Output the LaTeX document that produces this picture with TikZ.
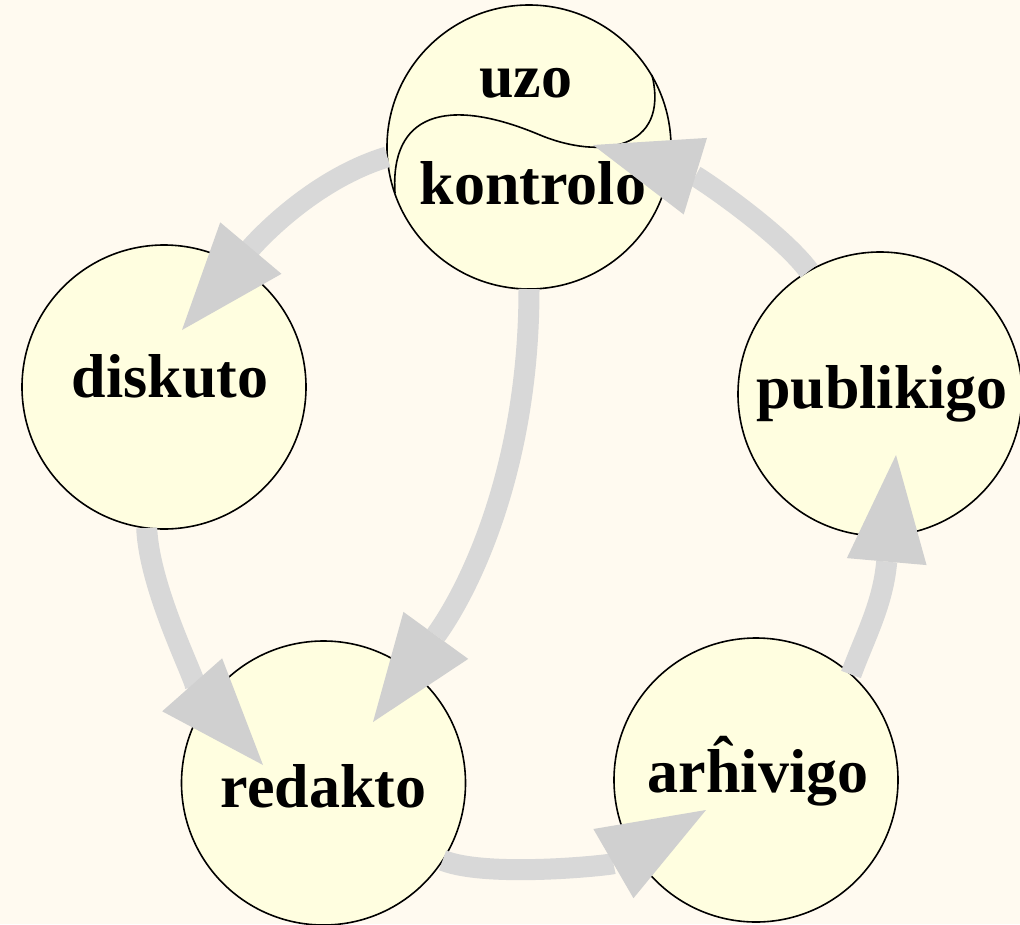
\documentclass[tikz,border=0pt]{standalone}
\usepackage{fontspec}
\setmainfont{Liberation Serif}
\usetikzlibrary{arrows.meta,calc}
\definecolor{bgcol}{RGB}{255,250,240}
\definecolor{nodefill}{RGB}{255,254,224}
\definecolor{shaftgray}{RGB}{216,216,216}
\definecolor{headgray}{RGB}{208,208,208}
\tikzset{
  stage/.style={circle, draw=black, line width=1.6pt, fill=nodefill, minimum size=284pt, inner sep=0pt, outer sep=0pt},
  stagetext/.style={anchor=base, inner sep=0pt, font=\bfseries\fontsize{62}{70}\selectfont},
  flow/.style={draw=shaftgray, line width=21pt, -{Triangle[length=107pt,width=80pt,color=headgray,line width=0pt]}},
}
\begin{document}
\begin{tikzpicture}[x=1pt,y=-1pt]
\fill[bgcol] (0,0) rectangle (1020,924);
\useasboundingbox (0,0) rectangle (1020,924);

\node[stage] (uk) at (529,147) {};
\node[stage] (d) at (164,387) {};
\node[stage] (p) at (880,394) {};
\node[stage] (r) at (323.5,783) {};
\node[stage] (a) at (756,780) {};

\draw[line width=1.6pt, shift={(uk.center)}] (-134,46) .. controls (-139,-32) and (-84,-52) .. (11,-12) .. controls (71,13) and (141,3) .. (123,-72);

\node[stagetext] (uzo) at ($(uk)+(-3,-50)$) {uzo};
\node[stagetext] (kontrolo) at ($(uk)+(4,57)$) {kontrolo};
\node[stagetext] (dtext) at ($(d)+(6,10)$) {diskuto};
\node[stagetext] (ptext) at ($(p)+(2,14)$) {publikigo};
\node[stagetext] (rtext) at ($(r)+(0,24)$) {redakto};
\node[stagetext] (atext) at ($(a)+(2,12)$) {arĥivigo};

\draw[flow] (uk.184) .. controls +(-86,26) and +(58,-69) .. ($(d)+(18,-57)$);
\draw[flow] (uk.270) .. controls +(0,179) and +(96.5,-133) .. ($(r)+(49.5,-61)$);
\draw[flow] (d.263) .. controls +(3,70) and +(-53,-60) .. ($(r)+(-60.5,-18)$);
\draw[flow] (r.-33) .. controls +(45,18) and +(-95,55) .. ($(a)+(-50,30)$);
\draw[flow] (a.48) .. controls +(14,-38) and +(-13,149) .. ($(p)+(16,61)$);
\draw[flow] (p.120) .. controls +(-30,-40) and +(105,32) .. ($(uk)+(64,-2)$);
\end{tikzpicture}
\end{document}
